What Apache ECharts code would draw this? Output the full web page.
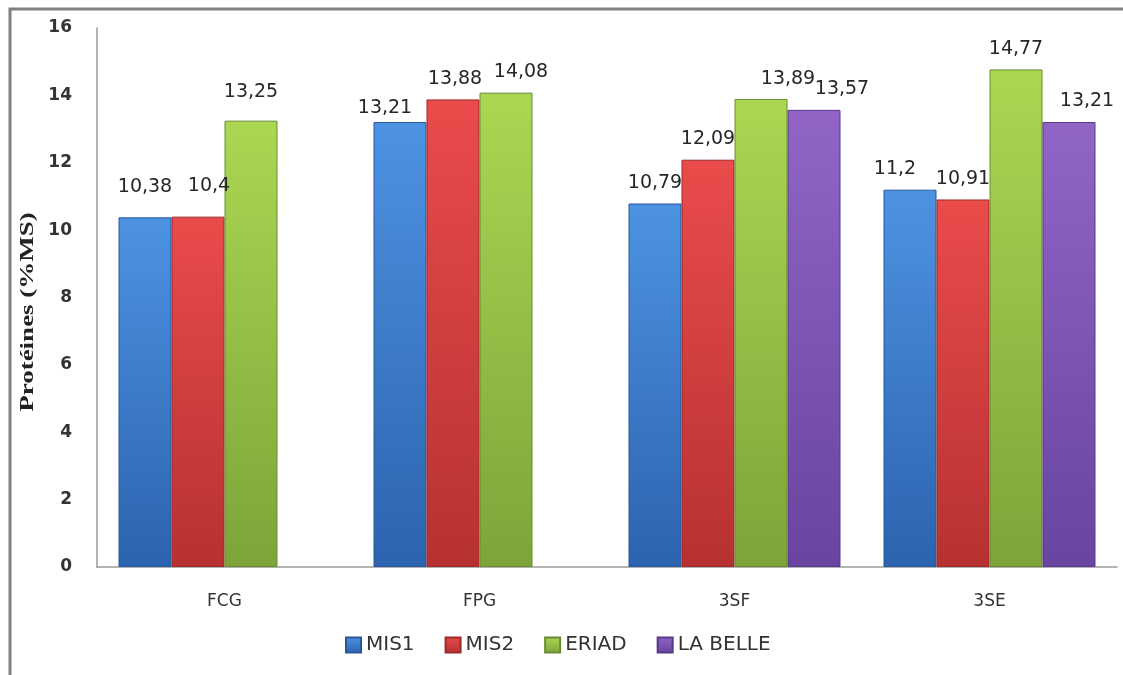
<!DOCTYPE html>
<html>
<head>
<meta charset="utf-8">
<script src="https://cdn.jsdelivr.net/npm/echarts@6/dist/echarts.min.js"></script>
<style>
  html, body { margin: 0; padding: 0; background: #ffffff; }
  #chart { width: 1123px; height: 675px; }
</style>
</head>
<body>
<div id="chart"></div>
<script>
// Protein content (% dry matter) per product and source
const categories = ['FCG', 'FPG', '3SF', '3SE'];
const seriesNames = ['MIS1', 'MIS2', 'ERIAD', 'LA BELLE'];
const mis1 = [10.38, 13.21, 10.79, 11.2];
const mis2 = [10.4, 13.88, 12.09, 10.91];
const eriad = [13.25, 14.08, 13.89, 14.77];
const laBelle = [null, null, 13.57, 13.21];
const yTicks = [0, 2, 4, 6, 8, 10, 12, 14, 16];

// Per-bar label nudges [dx, dy] so neighbouring labels do not collide
const labelNudge = {
  'MIS1':     [[0, -10], [-15, 7], [0, 0], [-15, 0]],
  'MIS2':     [[11, -10], [2, 0], [0, 0], [0, 0]],
  'ERIAD':    [[0, -8], [15, 0], [27, 0], [0, 0]],
  'LA BELLE': [[0, 0], [0, 0], [28, 0], [18, 0]]
};

// Bar fills: lighter at the top, deeper at the base
const palette = {
  'MIS1':     ['#4d93e2', '#2c63ae', '#28579a'],
  'MIS2':     ['#ea4b4b', '#b73131', '#9e2a2a'],
  'ERIAD':    ['#abd752', '#7da43a', '#6a8c30'],
  'LA BELLE': ['#9065c6', '#6944a0', '#583a88']
};

const values = [mis1, mis2, eriad, laBelle];

function fmt(v) {
  return String(v).replace('.', ',');
}

const series = seriesNames.map((name, si) => {
  const c = palette[name];
  return {
    name: name,
    type: 'bar',
    barWidth: 53,
    barGap: '0%',
    itemStyle: {
      color: new echarts.graphic.LinearGradient(0, 0, 0, 1, [
        { offset: 0, color: c[0] },
        { offset: 1, color: c[1] }
      ]),
      borderColor: c[2],
      borderWidth: 1
    },
    label: {
      show: true,
      position: 'top',
      distance: 11,
      fontFamily: 'DejaVu Sans',
      fontSize: 19,
      color: '#262626',
      formatter: p => fmt(p.value)
    },
    data: values[si].map((v, ci) => {
      if (v === null) return null;
      return {
        value: v,
        label: { offset: labelNudge[name][ci] }
      };
    })
  };
});

const chart = echarts.init(document.getElementById('chart'), null, { renderer: 'canvas' });

chart.setOption({
  backgroundColor: '#ffffff',
  animation: false,
  grid: { left: 97, right: 6, top: 28, bottom: 108, containLabel: false },
  legend: {
    data: seriesNames,
    left: 340,
    top: 630,
    itemWidth: 15,
    itemHeight: 15,
    itemGap: 30,
    icon: 'rect',
    textStyle: { fontFamily: 'DejaVu Sans', fontSize: 20, color: '#333' }
  },
  xAxis: {
    type: 'category',
    data: categories,
    axisLine: { show: true, lineStyle: { color: '#9a9a9a', width: 1.5 } },
    axisTick: { show: false },
    axisLabel: {
      margin: 26,
      fontFamily: 'DejaVu Sans',
      fontSize: 17,
      color: '#333'
    },
    splitLine: { show: false }
  },
  yAxis: {
    type: 'value',
    min: yTicks[0],
    max: yTicks[yTicks.length - 1],
    interval: yTicks[1] - yTicks[0],
    axisLine: { show: true, lineStyle: { color: '#9a9a9a', width: 1.5 } },
    axisTick: { show: false },
    splitLine: { show: false },
    axisLabel: {
      margin: 25,
      fontFamily: 'DejaVu Sans',
      fontWeight: 'bold',
      fontSize: 17,
      color: '#333'
    }
  },
  graphic: [
    {
      type: 'rect',
      z: -10,
      shape: { x: 10, y: 9, width: 1200, height: 800 },
      style: { fill: 'none', stroke: '#808080', lineWidth: 3 }
    },
    {
      type: 'text',
      x: 28,
      y: 312,
      rotation: Math.PI / 2,
      scaleX: 1.5,
      style: {
        text: 'Protéines (%MS)',
        font: 'bold 18px "Liberation Serif"',
        fill: '#222',
        align: 'center',
        verticalAlign: 'middle'
      }
    }
  ],
  series: series
});
</script>
</body>
</html>
